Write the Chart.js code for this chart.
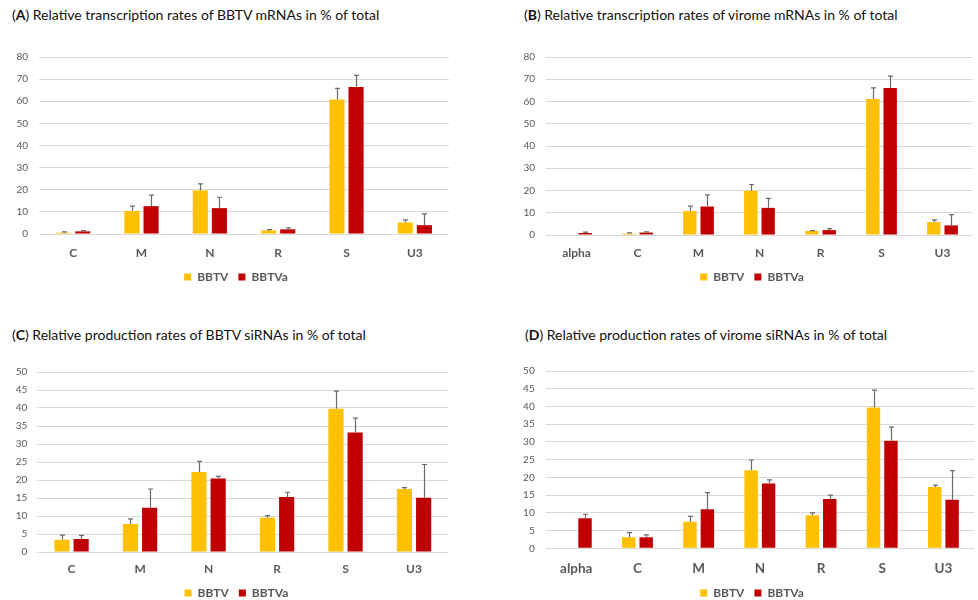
<!DOCTYPE html>
<html>
<head>
<meta charset="utf-8">
<script src="https://cdn.jsdelivr.net/npm/chart.js@4/dist/chart.umd.min.js"></script>
<style>
  html, body { margin: 0; padding: 0; background: #fff; }
  body { width: 978px; height: 600px; position: relative; overflow: hidden; font-family: Lato, "Liberation Sans", sans-serif; }
  .title { position: absolute; font-size: 14px; color: #111; white-space: nowrap; line-height: 1; }
  .title b { font-weight: 700; }
  canvas { position: absolute; }
</style>
</head>
<body>
<div class="title" id="tA" style="left:12px; top:8px;">(<b>A</b>) Relative transcription rates of BBTV mRNAs in % of total</div>
<div class="title" id="tB" style="left:524px; top:8px;">(<b>B</b>) Relative transcription rates of virome mRNAs in % of total</div>
<div class="title" id="tC" style="left:12px; top:328px;">(<b>C</b>) Relative production rates of BBTV siRNAs in % of total</div>
<div class="title" id="tD" style="left:525px; top:328px;">(<b>D</b>) Relative production rates of virome siRNAs in % of total</div>
<canvas id="cA"></canvas>
<canvas id="cB"></canvas>
<canvas id="cC"></canvas>
<canvas id="cD"></canvas>
<script>
// Genome components
const bbtvComponents = ['C', 'M', 'N', 'R', 'S', 'U3'];
const viromeComponents = ['alpha', 'C', 'M', 'N', 'R', 'S', 'U3'];
const seriesNames = ['BBTV', 'BBTVa'];

// (A) mRNA transcription rates, BBTV components (% of total) and SD
const mrnaBbtv = [0.6, 10.4, 19.7, 1.6, 60.8, 5.2];
const mrnaBbtvSd = [0.4, 2.2, 3.0, 0.4, 5.0, 1.2];
const mrnaBbtva = [1.2, 12.6, 11.7, 2.1, 66.4, 4.0];
const mrnaBbtvaSd = [0.3, 5.0, 4.9, 0.7, 5.3, 5.1];

// (B) mRNA transcription rates, whole virome
const viromeMrnaBbtv = [null, 0.6, 10.8, 19.9, 1.8, 61.1, 5.8];
const viromeMrnaBbtvSd = [null, 0.4, 2.2, 2.8, 0.2, 5.0, 1.0];
const viromeMrnaBbtva = [0.9, 1.1, 12.8, 12.2, 2.2, 66.1, 4.3];
const viromeMrnaBbtvaSd = [0.4, 0.3, 5.2, 4.3, 0.7, 5.3, 4.9];

// (C) siRNA production rates, BBTV components
const sirnaBbtv = [3.4, 7.8, 22.2, 9.5, 39.8, 17.5];
const sirnaBbtvSd = [1.3, 1.4, 3.0, 0.6, 4.9, 0.4];
const sirnaBbtva = [3.6, 12.3, 20.4, 15.3, 33.2, 15.1];
const sirnaBbtvaSd = [1.0, 5.2, 0.6, 1.3, 4.0, 9.2];

// (D) siRNA production rates, whole virome
const viromeSirnaBbtv = [null, 3.1, 7.5, 22.0, 9.3, 39.7, 17.3];
const viromeSirnaBbtvSd = [null, 1.3, 1.5, 2.9, 0.7, 4.9, 0.5];
const viromeSirnaBbtva = [8.5, 3.1, 11.0, 18.3, 13.9, 30.3, 13.7];
const viromeSirnaBbtvaSd = [1.1, 0.7, 4.7, 1.0, 1.1, 3.9, 8.2];

// Y axis ranges
const mrnaAxis = { max: 80, step: 10 };
const sirnaAxis = { max: 50, step: 5 };

const FONT = 'Lato, "Liberation Sans", sans-serif';
const YELLOW = '#FFC000';
const RED = '#C00000';
const GREY_TEXT = '#595959';

// Upward-only error bars with a small cap, positioned through the value scale
const errorBars = {
  id: 'errorBars',
  afterDatasetsDraw(chart) {
    const ctx = chart.ctx;
    const yScale = chart.scales.y;
    ctx.save();
    ctx.strokeStyle = '#6a6a6a';
    ctx.lineWidth = 1.2;
    chart.data.datasets.forEach((ds, di) => {
      const meta = chart.getDatasetMeta(di);
      meta.data.forEach((bar, i) => {
        const v = ds.data[i];
        const sd = ds.sd[i];
        if (v == null || sd == null) return;
        const yTop = yScale.getPixelForValue(v + sd);
        const yBar = yScale.getPixelForValue(v);
        const x = Math.round(bar.x) + 0.5;
        ctx.beginPath();
        ctx.moveTo(x, yBar);
        ctx.lineTo(x, yTop);
        ctx.moveTo(x - 2.5, yTop);
        ctx.lineTo(x + 2.5, yTop);
        ctx.stroke();
      });
    });
    ctx.restore();
  }
};

// Nudges the legend horizontally so it sits under the middle of the panel
const legendShift = {
  id: 'legendShift',
  afterLayout(chart, args, options) {
    const dx = options.dx || 0;
    if (chart.legend && dx) {
      chart.legend.left += dx;
      chart.legend.right += dx;
    }
  }
};

function makePanel(opts) {
  const canvas = document.getElementById(opts.id);
  canvas.style.left = opts.left + 'px';
  canvas.style.top = opts.top + 'px';
  canvas.width = opts.width;
  canvas.height = opts.height;
  return new Chart(canvas, {
    type: 'bar',
    data: {
      labels: opts.labels,
      datasets: [
        { label: seriesNames[0], data: opts.a, sd: opts.aSd, backgroundColor: YELLOW,
          categoryPercentage: opts.catPct, barPercentage: opts.barPct },
        { label: seriesNames[1], data: opts.b, sd: opts.bSd, backgroundColor: RED,
          categoryPercentage: opts.catPct, barPercentage: opts.barPct }
      ]
    },
    options: {
      responsive: false,
      animation: false,
      layout: { padding: { top: opts.padTop, right: opts.padRight, left: 0, bottom: 0 } },
      plugins: {
        legend: {
          position: 'bottom',
          labels: { boxWidth: 7, boxHeight: 7, padding: 10, color: GREY_TEXT,
                    font: { family: FONT, size: 12, weight: 'bold' } }
        },
        legendShift: { dx: opts.legendDx },
        tooltip: { enabled: false }
      },
      scales: {
        x: {
          grid: { display: false, drawTicks: false },
          border: { display: false },
          ticks: { padding: opts.xPad, color: GREY_TEXT, font: { family: FONT, size: opts.xFont, weight: 'bold' } },
          afterFit(s) { s.height = opts.xHeight; }
        },
        y: {
          min: 0, max: opts.axis.max,
          ticks: { stepSize: opts.axis.step, padding: opts.yPad, color: GREY_TEXT, font: { family: FONT, size: 10 } },
          grid: { color: '#d9d9d9', lineWidth: 1, drawTicks: false },
          border: { display: false },
          afterFit(s) { s.width = opts.yWidth; }
        }
      }
    },
    plugins: [errorBars, legendShift]
  });
}

makePanel({ id: 'cA', left: 0, top: 40, width: 472, height: 253, padTop: 14, padRight: 23,
  yWidth: 39, yPad: 11, xPad: 12, xHeight: 27, xFont: 12, catPct: 0.56, barPct: 0.79, legendDx: 11.5,
  labels: bbtvComponents, a: mrnaBbtv, aSd: mrnaBbtvSd, b: mrnaBbtva, bSd: mrnaBbtvaSd, axis: mrnaAxis });

makePanel({ id: 'cB', left: 515, top: 40, width: 463, height: 253, padTop: 14, padRight: 5,
  yWidth: 31, yPad: 11, xPad: 11.3, xHeight: 26, xFont: 12, catPct: 0.57, barPct: 0.77, legendDx: 8,
  labels: viromeComponents, a: viromeMrnaBbtv, aSd: viromeMrnaBbtvSd, b: viromeMrnaBbtva, bSd: viromeMrnaBbtvaSd, axis: mrnaAxis });

makePanel({ id: 'cC', left: 0, top: 356, width: 472, height: 253, padTop: 14, padRight: 23.7,
  yWidth: 37.3, yPad: 10, xPad: 9.7, xHeight: 25, xFont: 12, catPct: 0.56, barPct: 0.79, legendDx: 12.3,
  labels: bbtvComponents, a: sirnaBbtv, aSd: sirnaBbtvSd, b: sirnaBbtva, bSd: sirnaBbtvaSd, axis: sirnaAxis });

makePanel({ id: 'cD', left: 515, top: 354, width: 463, height: 255, padTop: 14.3, padRight: 4,
  yWidth: 30.7, yPad: 11, xPad: 12.6, xHeight: 28.7, xFont: 13.5, catPct: 0.57, barPct: 0.77, legendDx: 7.5,
  labels: viromeComponents, a: viromeSirnaBbtv, aSd: viromeSirnaBbtvSd, b: viromeSirnaBbtva, bSd: viromeSirnaBbtvaSd, axis: sirnaAxis });
</script>
</body>
</html>
